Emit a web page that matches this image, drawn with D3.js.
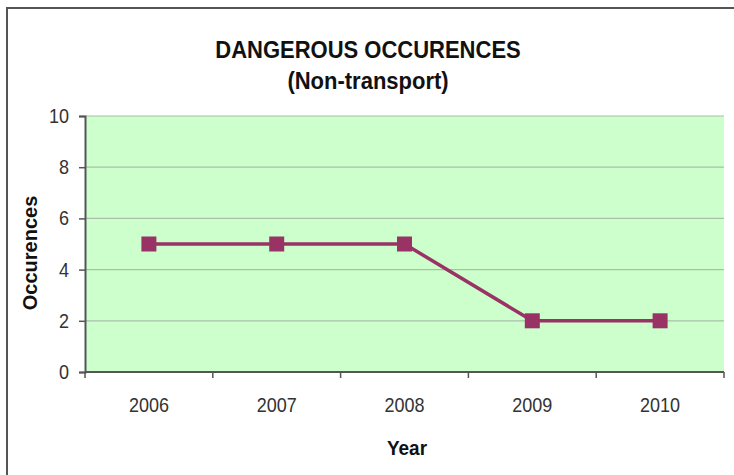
<!DOCTYPE html>
<html>
<head>
<meta charset="utf-8">
<script src="https://cdn.jsdelivr.net/npm/d3@7"></script>
<style>
  body { margin: 0; background: #fff; }
  text { font-family: "Liberation Sans", Arial, sans-serif; }
</style>
</head>
<body>
<svg id="chart" width="734" height="475"></svg>
<script>
// data
const years = ["2006", "2007", "2008", "2009", "2010"];
const occurences = [5, 5, 5, 2, 2];
const yTicks = [0, 2, 4, 6, 8, 10];

const svg = d3.select("#chart");
const plot = { left: 85, right: 724, top: 116, bottom: 372 };

// outer frame (only top and left edges are visible)
svg.append("path")
  .attr("d", "M7,475 V8 H734")
  .attr("fill", "none")
  .attr("stroke", "#555")
  .attr("stroke-width", 2);

const x = d3.scaleBand().domain(years).range([plot.left, plot.right]);
const y = d3.scaleLinear().domain([0, 10]).range([plot.bottom, plot.top]);

svg.append("rect")
  .attr("x", plot.left).attr("y", plot.top)
  .attr("width", plot.right - plot.left).attr("height", plot.bottom - plot.top)
  .attr("fill", "#ccffcc");

// grid lines
svg.append("g")
  .selectAll("line")
  .data(yTicks.filter(d => d > 0))
  .enter().append("line")
  .attr("x1", plot.left).attr("x2", plot.right)
  .attr("y1", d => y(d)).attr("y2", d => y(d))
  .attr("stroke", "#a9bfa9")
  .attr("stroke-width", 1.2);

// y axis
const yAxis = svg.append("g")
  .attr("transform", `translate(${plot.left},0)`)
  .call(d3.axisLeft(y).tickValues(yTicks).tickSize(6).tickPadding(0));
yAxis.select(".domain").attr("stroke", "#555").attr("stroke-width", 2);
yAxis.selectAll(".tick line").attr("stroke", "#555").attr("stroke-width", 1.5);
// labels slightly stretched vertically like the original rendering
yAxis.selectAll(".tick text")
  .attr("x", null).attr("dy", null)
  .attr("transform", "translate(-16,6.5) scale(1,1.15)")
  .attr("font-size", 18).attr("fill", "#333")
  .style("font-family", "'Liberation Sans', Arial, sans-serif");

// x axis: ticks between categories
const xAxis = svg.append("g")
  .attr("transform", `translate(0,${plot.bottom})`);
xAxis.append("line")
  .attr("x1", plot.left).attr("x2", plot.right)
  .attr("stroke", "#555").attr("stroke-width", 2);
const bounds = years.map(d => x(d)).concat([plot.right]);
xAxis.selectAll("line.tk")
  .data(bounds)
  .enter().append("line")
  .attr("class", "tk")
  .attr("x1", d => d).attr("x2", d => d)
  .attr("y1", 0).attr("y2", 6)
  .attr("stroke", "#555").attr("stroke-width", 1.5);
xAxis.selectAll("text")
  .data(years)
  .enter().append("text")
  .attr("transform", d => `translate(${x(d) + x.bandwidth() / 2},40) scale(1,1.15)`)
  .attr("text-anchor", "middle")
  .attr("font-size", 18)
  .attr("fill", "#333")
  .text(d => d);

// line + square markers
const pts = years.map((yr, i) => ({ yr, v: occurences[i] }));
const lineGen = d3.line()
  .x(d => x(d.yr) + x.bandwidth() / 2)
  .y(d => y(d.v));

svg.append("path")
  .datum(pts)
  .attr("d", lineGen)
  .attr("fill", "none")
  .attr("stroke", "#993366")
  .attr("stroke-width", 3.5);

svg.selectAll("rect.mk")
  .data(pts)
  .enter().append("rect")
  .attr("class", "mk")
  .attr("x", d => x(d.yr) + x.bandwidth() / 2 - 7.5)
  .attr("y", d => y(d.v) - 7.5)
  .attr("width", 15).attr("height", 15)
  .attr("fill", "#993366");

// titles
svg.append("text")
  .attr("transform", "translate(368,58) scale(1,1.05)")
  .attr("text-anchor", "middle")
  .attr("font-size", 22).attr("font-weight", "bold")
  .attr("fill", "#111")
  .text("DANGEROUS OCCURENCES");
svg.append("text")
  .attr("transform", "translate(368,89) scale(1,1.05)")
  .attr("text-anchor", "middle")
  .attr("font-size", 22).attr("font-weight", "bold")
  .attr("fill", "#111")
  .text("(Non-transport)");

svg.append("text")
  .attr("transform", "translate(37,253) rotate(-90)")
  .attr("text-anchor", "middle")
  .attr("font-size", 20).attr("font-weight", "bold")
  .attr("fill", "#111")
  .text("Occurences");

svg.append("text")
  .attr("transform", "translate(407,455) scale(1,1.1)")
  .attr("text-anchor", "middle")
  .attr("font-size", 19).attr("font-weight", "bold")
  .attr("fill", "#111")
  .text("Year");
</script>
</body>
</html>
